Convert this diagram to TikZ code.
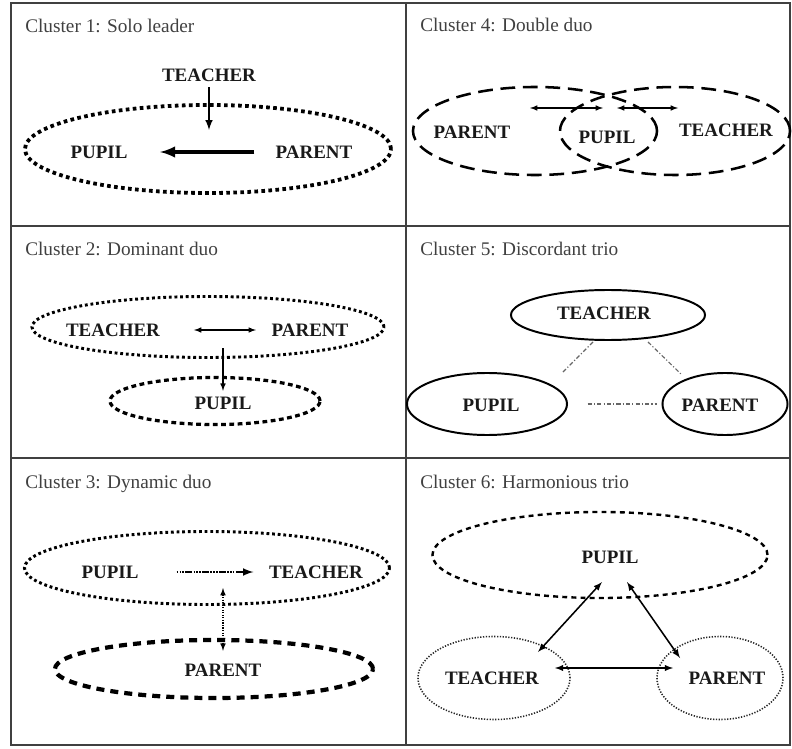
\documentclass[tikz,border=0pt]{standalone}
\usepackage{fontspec}
\setmainfont{Liberation Serif}
\usetikzlibrary{arrows}
\usetikzlibrary{shapes.geometric}
\tikzstyle{frame}=[draw=black!75, line width=1pt]
\tikzstyle{title}=[anchor=base west, inner sep=0pt, text=black!75, font=\fontsize{13.7}{16}\selectfont]
\tikzstyle{role}=[inner sep=1pt, text=black!90, font=\fontsize{13.5}{16}\selectfont\bfseries]
\tikzstyle{ring}=[ellipse, draw=black, inner sep=0pt]
\tikzstyle{squaredots}=[line width=2.7pt, dash pattern=on 2.6pt off 2.4pt]
\tikzstyle{longdash}=[line width=1.8pt, dash pattern=on 10.5pt off 5.5pt]
\tikzstyle{smalldots}=[line width=2.1pt, dash pattern=on 2pt off 2pt]
\tikzstyle{shortdash}=[line width=2.3pt, dash pattern=on 3.4pt off 2.5pt]
\tikzstyle{thickdash}=[line width=3pt, dash pattern=on 5.7pt off 4.3pt]
\tikzstyle{pupildash}=[line width=1.7pt, dash pattern=on 3.5pt off 3pt]
\tikzstyle{finedots}=[draw=black!85, line width=1.1pt, dash pattern=on 0.9pt off 1.1pt]
\tikzstyle{solidring}=[line width=1.4pt]
\tikzstyle{link}=[line width=0.8pt]
\tikzstyle{brokenlink}=[draw=black!60, line width=0.8pt, dash pattern=on 3pt off 1.5pt on 0.8pt off 1.5pt]
\tikzset{>=latex}

\begin{document}
\begin{tikzpicture}[x=0.025cm, y=-0.025cm]
  \useasboundingbox (0,0) rectangle (792,749);

  % Frame
  \draw[frame] (11,3) rectangle (790,745);
  \draw[frame] (406,3) -- (406,745);
  \foreach \y in {226,458}
    \draw[frame] (11,\y) -- (790,\y);

  % Titles
  \node at (25,33) [title] (title_1) {Cluster 1: Solo leader};
  \node at (420,32) [title] (title_4) {Cluster 4: Double duo};
  \node at (25,256) [title] (title_2) {Cluster 2: Dominant duo};
  \node at (420,256) [title] (title_5) {Cluster 5: Discordant trio};
  \node at (25,488) [title] (title_3) {Cluster 3: Dynamic duo};
  \node at (420,488) [title] (title_6) {Cluster 6: Harmonious trio};

  % Cluster 1
  \node at (208,149) [ring, squaredots, minimum width=9.15cm, minimum height=2.2cm] (ring_1) {};
  \node at (209,75) [role] (teacher_1) {TEACHER};
  \node at (99,152) [role] (pupil_1) {PUPIL};
  \node at (314,152) [role] (parent_1) {PARENT};
  \coordinate (in_1) at (209,130);
  \draw [->, line width=1.4pt, shorten <=3pt] (teacher_1.south) -- (in_1);
  \draw [->, line width=2.6pt, shorten <=14pt, shorten >=22pt] (parent_1.west) -- (pupil_1.east);

  % Cluster 4
  \node at (535,131) [ring, longdash, minimum width=6.1cm, minimum height=2.2cm] (ring_4a) {};
  \node at (675,131) [ring, longdash, minimum width=5.75cm, minimum height=2.2cm] (ring_4b) {};
  \node at (472,132) [role] (parent_4) {PARENT};
  \node at (607,137) [role] (pupil_4) {PUPIL};
  \node at (726,130) [role] (teacher_4) {TEACHER};
  \coordinate (a_4) at (530,108);
  \coordinate (b_4) at (603,108);
  \coordinate (c_4) at (617,108);
  \coordinate (d_4) at (678,108);
  \draw [<->, link] (a_4) -- (b_4);
  \draw [<->, link] (c_4) -- (d_4);

  % Cluster 2
  \node at (208,327) [ring, smalldots, minimum width=8.8cm, minimum height=1.525cm] (ring_2a) {};
  \node at (215,401) [ring, shortdash, minimum width=5.25cm, minimum height=1.175cm] (ring_2b) {};
  \node at (113,330) [role] (teacher_2) {TEACHER};
  \node at (310,330) [role] (parent_2) {PARENT};
  \node at (223,403) [role] (pupil_2) {PUPIL};
  \draw [<->, link, shorten <=23pt, shorten >=10pt] (teacher_2.east) -- (parent_2.west);
  \coordinate (top_2) at (223,348);
  \draw [->, link, shorten >=3pt] (top_2) -- (pupil_2.north);

  % Cluster 5
  \node at (608,315) [ring, solidring, minimum width=4.85cm, minimum height=1.25cm] (ring_5a) {};
  \node at (487,404) [ring, solidring, minimum width=4cm, minimum height=1.55cm] (ring_5b) {};
  \node at (725,404) [ring, solidring, minimum width=3.125cm, minimum height=1.55cm] (ring_5c) {};
  \node at (604,313) [role] (teacher_5) {TEACHER};
  \node at (491,405) [role] (pupil_5) {PUPIL};
  \node at (720,405) [role] (parent_5) {PARENT};
  \coordinate (a_5) at (593,342);
  \coordinate (b_5) at (562,373);
  \coordinate (c_5) at (648,342);
  \coordinate (d_5) at (682,375);
  \draw [brokenlink] (a_5) -- (b_5);
  \draw [brokenlink] (c_5) -- (d_5);
  \draw [brokenlink, shorten <=14pt, shorten >=3pt] (ring_5b.east) -- (ring_5c.west);

  % Cluster 3
  \node at (207,568) [ring, smalldots, minimum width=9.125cm, minimum height=1.825cm] (ring_3a) {};
  \node at (214,669) [ring, thickdash, minimum width=7.95cm, minimum height=1.45cm] (ring_3b) {};
  \node at (110,572) [role] (pupil_3) {PUPIL};
  \node at (316,572) [role] (teacher_3) {TEACHER};
  \node at (223,670) [role] (parent_3) {PARENT};
  \draw [->, line width=1.5pt, dash pattern=on 1pt off 1pt on 1pt off 1pt on 1pt off 1pt on 5pt off 1pt, shorten <=26pt, shorten >=10pt] (pupil_3.east) -- (teacher_3.west);
  \coordinate (mid_3) at (223,588);
  \draw [<->, link, densely dotted, shorten >=8pt] (mid_3) -- (parent_3.north);

  % Cluster 6
  \node at (600,555) [ring, pupildash, minimum width=8.375cm, minimum height=2.15cm] (ring_6a) {};
  \node at (494,678) [ring, finedots, minimum width=3.8cm, minimum height=2.075cm] (ring_6b) {};
  \node at (720,678) [ring, finedots, minimum width=3.15cm, minimum height=2.075cm] (ring_6c) {};
  \node at (610,557) [role] (pupil_6) {PUPIL};
  \node at (492,678) [role] (teacher_6) {TEACHER};
  \node at (727,678) [role] (parent_6) {PARENT};
  \coordinate (a_6) at (538,652);
  \coordinate (b_6) at (602,582);
  \coordinate (c_6) at (627,582);
  \coordinate (d_6) at (680,658);
  \coordinate (e_6) at (555,668);
  \coordinate (f_6) at (673,668);
  \draw [<->, line width=1.1pt] (a_6) -- (b_6);
  \draw [<->, line width=1.1pt] (c_6) -- (d_6);
  \draw [<->, line width=1pt] (e_6) -- (f_6);
\end{tikzpicture}
\end{document}
